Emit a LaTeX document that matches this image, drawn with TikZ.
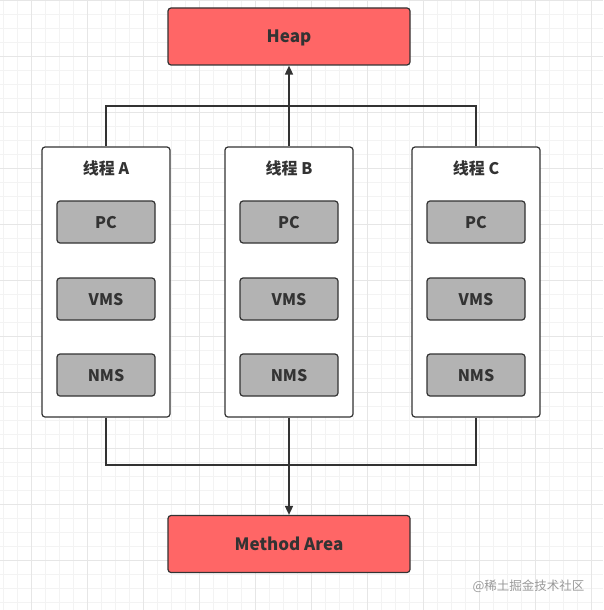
\documentclass[tikz,border=0pt]{standalone}
\usepackage{fontspec}
\setmainfont{Noto Sans CJK SC}
\usetikzlibrary{arrows.meta}

\definecolor{linecol}{HTML}{333333}
\definecolor{heapred}{HTML}{FF6666}
\definecolor{cellgray}{HTML}{B3B3B3}
\definecolor{gridminor}{HTML}{F3F3F3}
\definecolor{gridmajor}{HTML}{E6E6E6}

\tikzset{
    areabox/.style={draw=linecol, fill=heapred, line width=1.2pt, rounded corners=3pt,
        minimum width=242pt, minimum height=57pt, text=linecol,
        font=\bfseries\fontsize{17}{19}\selectfont},
    threadbox/.style={draw=linecol, fill=white, line width=1.2pt, rounded corners=3pt,
        minimum width=128pt, minimum height=270pt},
    threadtitle/.style={text=linecol, font=\bfseries\fontsize{16}{18}\selectfont},
    cellbox/.style={draw=linecol, fill=cellgray, line width=1.2pt, rounded corners=3pt,
        minimum width=98pt, minimum height=42pt, text=linecol,
        font=\bfseries\fontsize{16}{18}\selectfont},
    label drop/.style={text depth=0pt, text height=1.3em},
    bus/.style={draw=linecol, line width=1.2pt},
    toarea/.style={bus, line width=1.6pt, -{Triangle[length=9pt, width=8pt]}}
}

\begin{document}
\begin{tikzpicture}[x=1pt, y=-1pt]
    \useasboundingbox (0, 0) rectangle (603, 610);

    % background grid
    \foreach \x in {3, 17, ..., 603}{
        \draw[gridminor, line width=0.8pt] (\x, 0) -- (\x, 610);
    }
    \foreach \y in {0, 14, ..., 610}{
        \draw[gridminor, line width=0.8pt] (0, \y) -- (603, \y);
    }
    \foreach \x in {31, 87, ..., 603}{
        \draw[gridmajor, line width=0.8pt] (\x, 0) -- (\x, 610);
    }
    \foreach \y in {0, 56, ..., 610}{
        \draw[gridmajor, line width=0.8pt] (0, \y) -- (603, \y);
    }

    \node[areabox, label drop] (heap) at (289, 36.5) {Heap};
    \node[areabox, label drop] (method) at (289, 544) {Method Area};

    % threads
    \foreach \t/\x in {A/106, B/289, C/476}{
        \node[threadbox] (thread\t) at (\x, 282) {};
        \node[threadtitle] (title\t) at (\x, 168) {线程 \t};
        \node[cellbox, label drop] (pc\t) at (\x, 222) {PC};
        \node[cellbox, label drop] (vms\t) at (\x, 299) {VMS};
        \node[cellbox, label drop] (nms\t) at (\x, 375) {NMS};
    }

    \coordinate (topbus) at (289, 106);
    \coordinate (lowbus) at (289, 465);

    \draw[bus] (threadA.north) |- (topbus) -| (threadC.north);
    \draw[bus] (threadA.south) |- (lowbus) -| (threadC.south);
    \draw[toarea] (threadB.north) -- (heap.south);
    \draw[toarea] (threadB.south) -- (method.north);

    \node[text=black!40, font=\fontsize{12.5}{14}\selectfont, anchor=east] (mark) at (588, 586) {@稀土掘金技术社区};
\end{tikzpicture}
\end{document}
